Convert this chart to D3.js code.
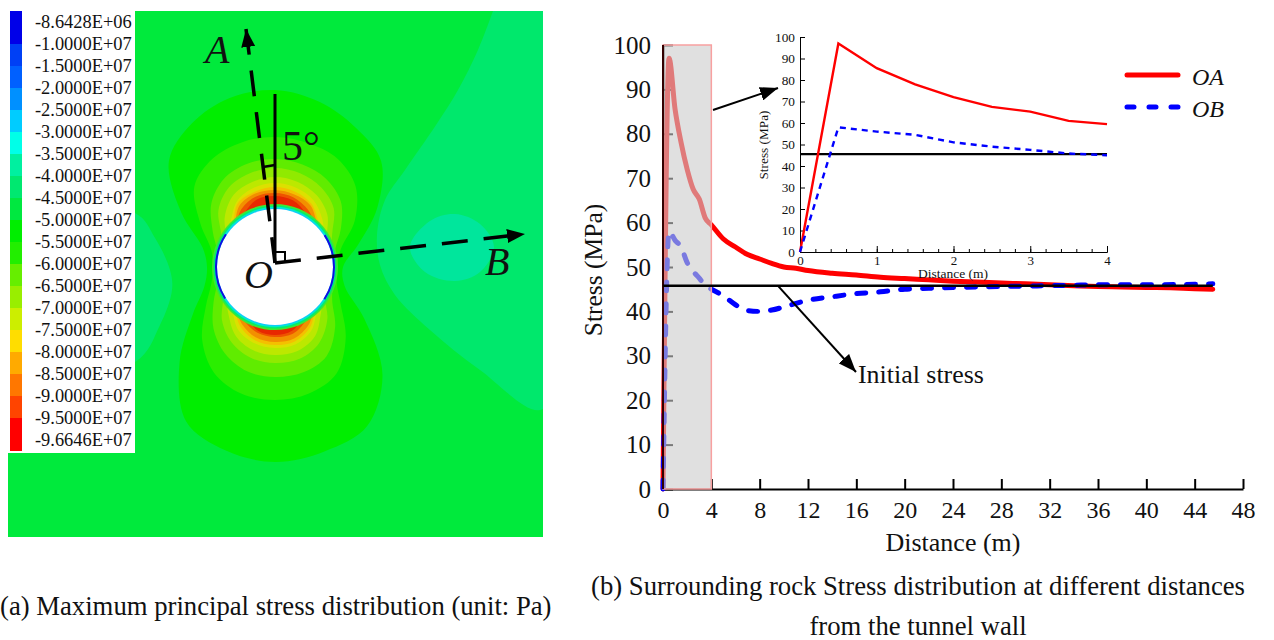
<!DOCTYPE html>
<html>
<head>
<meta charset="utf-8">
<script src="https://cdn.jsdelivr.net/npm/d3@7"></script>
<style>
    body { margin: 0; background: #fff; }
    svg { display: block; }
    text { font-family: "Liberation Serif", serif; fill: #111; }
    .main .tick line, .main .domain { stroke: #000; stroke-width: 2; }
    .inset .tick line, .inset .domain { stroke: #000; stroke-width: 1; }
</style>
</head>
<body>
<svg id="chart" width="1274" height="640"></svg>
<script>
// legend of the contour plot
const legendLabels = ["-8.6428E+06", "-1.0000E+07", "-1.5000E+07", "-2.0000E+07", "-2.5000E+07",
    "-3.0000E+07", "-3.5000E+07", "-4.0000E+07", "-4.5000E+07", "-5.0000E+07", "-5.5000E+07",
    "-6.0000E+07", "-6.5000E+07", "-7.0000E+07", "-7.5000E+07", "-8.0000E+07", "-8.5000E+07",
    "-9.0000E+07", "-9.5000E+07", "-9.6646E+07"];
const legendColors = ["#0000e8", "#0040f5", "#0060ff", "#0090ff", "#00ccff", "#00ffe8", "#00f0a0",
    "#00e870", "#00e840", "#00ee00", "#22ee00", "#66ee00", "#99ee00", "#ccee00", "#ffdd00",
    "#ffaa00", "#ff7700", "#ff4400", "#ff0000"];
const legendEdges = [11, 44, 66, 88, 110, 132, 154, 176, 198, 220, 242, 264, 286, 308, 330, 352, 374, 396, 418, 451];

// contour outlines, offsets from the tunnel centre
const rightZone = [[218, -256], [203, -217], [183, -177], [161, -142], [130, -97], [110, -67],
    [102, -32], [105, -2], [120, 28], [155, 63], [205, 103], [268, 142], [268, -256]];
const rightBlob = [[135, -20], [155, -46], [180, -53], [205, -43], [219, -20], [205, 5], [180, 14], [150, 5]];
const leftZone = [[-267, -60], [-140, -54], [-120, -29], [-105, 3], [-103, 23], [-115, 58], [-140, 95], [-267, 110]];

// radii around the tunnel, one value every 15 degrees clockwise from the top
const contourBands = [
    {color: "#00ee00", r: [177, 171, 161, 150, 118, 86, 68, 72, 103, 152, 184, 191, 195, 190, 178, 135, 95, 73, 68, 75, 108, 150, 166, 175]},
    {color: "#2aee00", r: [130, 128, 125, 114, 92, 68, 62, 64, 76, 100, 123, 131, 133, 131, 122, 103, 80, 66, 62, 66, 86, 114, 125, 129]},
    {color: "#60ec00", r: [108, 106, 102, 93, 76, 62, 60, 60, 66, 85, 103, 109, 110, 108, 100, 87, 71, 60, 59, 60, 72, 90, 102, 107]},
    {color: "#90ea00", r: [99, 97, 92, 83, 66, 58, 57, 58, 58, 74, 88, 95, 96, 94, 87, 75, 60, 57, 57, 57, 62, 80, 92, 97]},
    {color: "#bce800", r: [90, 88, 83, 74, 60, 56, 56, 56, 56, 65, 80, 87, 88, 86, 79, 66, 57, 56, 56, 56, 57, 71, 83, 88]},
    {color: "#dce000", r: [84, 82, 77, 67, 57, 56, 56, 56, 56, 60, 73, 80, 81, 79, 73, 61, 56, 56, 56, 56, 56, 63, 76, 82]},
    {color: "#f4c000", r: [80, 78, 73, 62, 56, 56, 56, 56, 56, 58, 70, 77, 78, 76, 69, 58, 56, 56, 56, 56, 56, 60, 74, 78]},
    {color: "#f29000", r: [77, 75, 71, 60, 56, 56, 56, 56, 56, 57, 67, 74, 75, 73, 66, 57, 56, 56, 56, 56, 56, 58, 71, 76]},
    {color: "#ee5400", r: [74, 72, 66, 58, 56, 56, 56, 56, 56, 56, 62, 69, 70, 68, 62, 56, 56, 56, 56, 56, 56, 57, 67, 73]},
    {color: "#e82800", r: [71, 69, 62, 56, 56, 56, 56, 56, 56, 56, 58, 66, 68, 66, 58, 56, 56, 56, 56, 56, 56, 56, 62, 70]}
];
const bandAngles = d3.range(24);

// rings at the tunnel wall, outer to inner
const wallRadii = [63, 61.5, 60.2, 59, 58];
const wallColors = ["#40e830", "#00ec70", "#00ecc8", "#10c8ff", "#ffffff"];
const blueArcs = [[1.0, 2.15], [4.15, 5.3]];

// callouts on the contour plot
const lineA = [[0, -4], [-29, -238]];
const lineB = [[0, -4], [250, -33]];
const lineV = [[0, -4], [0, -173]];
const rightMark = [[0, -15], [10, -15], [10, -4]];
const angleMark = [[-12, -100], [0, -102]];
const panelLabels = [
    {t: "A", x: -70, y: -204, i: true}, {t: "O", x: -31, y: 21, i: true},
    {t: "B", x: 210, y: 8, i: true}, {t: "5°", x: 7, y: -107, i: false}
];

// stress curves
const distOA = [0, 0.5, 1, 1.5, 2, 2.5, 3, 3.5, 4, 5, 6, 7, 8, 9, 10, 11, 12, 14, 16, 18, 20, 22, 24, 26, 28, 30, 32, 34, 36, 38, 40, 42, 44, 45.5];
const stressOA = [0, 97, 85.5, 78, 72, 67.5, 65.3, 61, 59.5, 56.3, 54.5, 52.8, 51.8, 50.8, 50, 49.7, 49.2, 48.6, 48.2, 47.7, 47.4, 47.1, 46.8, 46.6, 46.4, 46.2, 46, 45.8, 45.6, 45.5, 45.4, 45.3, 45.1, 45];
const distOB = [0, 0.5, 1, 1.5, 2, 2.5, 3, 3.5, 4, 5, 6, 7, 8, 9, 10, 11, 12, 14, 16, 18, 20, 22, 24, 26, 28, 30, 32, 34, 36, 40, 44, 45.5];
const stressOB = [0, 58, 56, 54.5, 51, 49, 47.5, 45.8, 45, 43.5, 41.5, 40.2, 40, 40.3, 41, 41.8, 42.5, 43.3, 44, 44.4, 45, 45.2, 45.4, 45.5, 45.6, 45.7, 45.8, 45.9, 46, 46, 46.1, 46.2];
const initialStress = 45.8;
const initialInset = 45.5;

const mainXTicks = d3.range(0, 49, 4);
const stressTicks = d3.range(0, 101, 10);
const insetXMinor = d3.range(0, 4.01, 0.2);

const svg = d3.select("#chart");

const defs = svg.append("defs");
defs.append("marker").attr("id", "head").attr("markerUnits", "userSpaceOnUse")
    .attr("viewBox", "0 0 18 14").attr("refX", 18).attr("refY", 7)
    .attr("markerWidth", 18).attr("markerHeight", 14).attr("orient", "auto")
    .append("path").attr("d", "M0,0L18,7L0,14Z").attr("fill", "#000");
defs.append("clipPath").attr("id", "field").append("rect")
    .attr("x", 8).attr("y", 11).attr("width", 535).attr("height", 526);

// ---- contour plot ----
const fieldX = d3.scaleLinear().domain([-267, 268]).range([8, 543]);
const fieldY = d3.scaleLinear().domain([-256, 270]).range([11, 537]);
const fieldLine = d3.line().x(d => fieldX(d[0])).y(d => fieldY(d[1]));
const radial = d3.lineRadial()
    .angle(i => i * Math.PI / 12)
    .curve(d3.curveCatmullRomClosed);

const field = svg.append("g").attr("clip-path", "url(#field)");
field.append("rect").attr("x", fieldX(-267)).attr("y", fieldY(-256))
    .attr("width", fieldX(268) - fieldX(-267)).attr("height", fieldY(270) - fieldY(-256))
    .attr("fill", "#00ea3c");
field.append("path")
    .attr("d", fieldLine.curve(d3.curveCatmullRom)(rightZone) + "Z")
    .attr("fill", "#00e86c");
field.append("path")
    .attr("d", fieldLine.curve(d3.curveCatmullRomClosed)(rightBlob))
    .attr("fill", "#00e69c");
field.append("path")
    .attr("d", fieldLine.curve(d3.curveCatmullRom)(leftZone) + "Z")
    .attr("fill", "#00e86c");

const centre = field.append("g")
    .attr("transform", `translate(${fieldX(0)},${fieldY(0)})`);
contourBands.forEach(b => {
    centre.append("path")
        .attr("d", radial.radius(i => b.r[i])(bandAngles))
        .attr("fill", b.color);
});
wallRadii.forEach((r, i) => {
    centre.append("circle").attr("r", r).attr("fill", wallColors[i]);
});
blueArcs.forEach(a => {
    centre.append("path")
        .attr("d", d3.arc()({innerRadius: 58, outerRadius: 60, startAngle: a[0], endAngle: a[1]}))
        .attr("fill", "#1010e0");
});

// legend box
svg.append("rect").attr("x", 8).attr("y", 11).attr("width", 127).attr("height", 442).attr("fill", "#fff");
svg.selectAll(".swatch").data(legendColors).enter().append("rect")
    .attr("class", "swatch")
    .attr("x", 10).attr("width", 12)
    .attr("y", (d, i) => legendEdges[i])
    .attr("height", (d, i) => legendEdges[i + 1] - legendEdges[i])
    .attr("fill", d => d);
svg.selectAll(".legend-label").data(legendLabels).enter().append("text")
    .attr("class", "legend-label")
    .attr("x", 35).attr("y", (d, i) => 22 + i * 22).attr("dy", ".35em")
    .attr("font-size", 18.4)
    .text(d => d);

// callouts
const overlay = svg.append("g");
const plainLine = d3.line().x(d => fieldX(d[0])).y(d => fieldY(d[1]));
[lineA, lineB].forEach(l => {
    overlay.append("path").attr("d", plainLine(l)).attr("fill", "none")
        .attr("stroke", "#000").attr("stroke-width", 3.5)
        .attr("stroke-dasharray", "26 16")
        .attr("marker-end", "url(#head)");
});
[[lineV, 3], [rightMark, 2], [angleMark, 2.5]].forEach(([l, w]) => {
    overlay.append("path").attr("d", plainLine(l)).attr("fill", "none")
        .attr("stroke", "#000").attr("stroke-width", w);
});
overlay.selectAll("text").data(panelLabels).enter().append("text")
    .attr("x", d => fieldX(d.x)).attr("y", d => fieldY(d.y))
    .attr("font-size", d => d.i ? 40 : 42)
    .attr("font-style", d => d.i ? "italic" : "normal")
    .text(d => d.t);

// ---- main line chart ----
const xScale = d3.scaleLinear().domain([0, 48]).range([663, 1243]);
const yScale = d3.scaleLinear().domain([0, 100]).range([489, 45]);
const pairs = (xs, ys) => xs.map((x, i) => [x, ys[i]]);
const mainLine = d3.line().x(d => xScale(d[0])).y(d => yScale(d[1]));
const mainCurve = d3.line().x(d => xScale(d[0])).y(d => yScale(d[1])).curve(d3.curveMonotoneX);

const main = svg.append("g").attr("class", "main");
main.append("g").attr("transform", "translate(0,489)")
    .call(d3.axisBottom(xScale).tickValues(mainXTicks).tickSize(-10).tickSizeOuter(0).tickPadding(12))
    .call(g => g.selectAll("text").attr("font-size", 24).attr("font-family", "Liberation Serif").attr("fill", "#111"));
main.append("g").attr("transform", "translate(663,0)")
    .call(d3.axisLeft(yScale).tickValues(stressTicks).tickSize(-10).tickSizeOuter(0).tickPadding(12))
    .call(g => g.selectAll("text").attr("font-size", 25).attr("font-family", "Liberation Serif").attr("fill", "#111"));

main.append("path")
    .attr("d", mainCurve(pairs(distOA, stressOA)))
    .attr("fill", "none").attr("stroke", "#ff0000").attr("stroke-width", 5)
    .attr("stroke-linejoin", "round").attr("stroke-linecap", "round");
main.append("path")
    .attr("d", mainCurve(pairs(distOB, stressOB)))
    .attr("fill", "none").attr("stroke", "#0000ff").attr("stroke-width", 5)
    .attr("stroke-linejoin", "round").attr("stroke-linecap", "round")
    .attr("stroke-dasharray", "9 13");

// shaded range of the inset, sits on top of the curves
main.append("rect")
    .attr("x", xScale(0)).attr("y", yScale(100))
    .attr("width", xScale(4) - xScale(0)).attr("height", yScale(0) - yScale(100))
    .attr("fill", "#cccccc").attr("fill-opacity", 0.6)
    .attr("stroke", "#f8a0a0").attr("stroke-width", 1.5);

// these two stay dark through the shading
main.append("path")
    .attr("d", mainLine([[0, 0], [0, 100]]))
    .attr("fill", "none").attr("stroke", "#300").attr("stroke-width", 2);
main.append("path")
    .attr("d", mainLine([[0, initialStress], [45.5, initialStress]]))
    .attr("fill", "none").attr("stroke", "#000").attr("stroke-width", 2.5);

main.append("text").attr("x", 953).attr("y", 551).attr("text-anchor", "middle")
    .attr("font-size", 26).text("Distance (m)");
main.append("text").attr("transform", "translate(602,270) rotate(-90)").attr("text-anchor", "middle")
    .attr("font-size", 25.5).text("Stress (MPa)");

// ---- inset ----
const insetX = d3.scaleLinear().domain([0, 4]).range([800, 1107]);
const insetY = d3.scaleLinear().domain([0, 100]).range([252, 37]);
const insetLine = d3.line().x(d => insetX(d[0])).y(d => insetY(d[1]));
const inset = svg.append("g").attr("class", "inset");
inset.append("g").attr("transform", "translate(0,252)")
    .call(d3.axisBottom(insetX).tickValues(insetXMinor).tickSize(-3).tickSizeOuter(0).tickFormat(""));
inset.append("g").attr("transform", "translate(0,252)")
    .call(d3.axisBottom(insetX).tickValues([0, 1, 2, 3, 4]).tickSize(-6).tickSizeOuter(0).tickPadding(4).tickFormat(d3.format("d")))
    .call(g => g.selectAll("text").attr("font-size", 13).attr("font-family", "Liberation Serif").attr("fill", "#111"));
inset.append("g").attr("transform", "translate(800,0)")
    .call(d3.axisLeft(insetY).tickValues(stressTicks).tickSize(-5).tickSizeOuter(0).tickPadding(5))
    .call(g => g.selectAll("text").attr("font-size", 13.3).attr("font-family", "Liberation Serif").attr("fill", "#111"));
const insetOA = pairs(distOA, stressOA).filter(d => d[0] <= 4);
const insetOB = pairs(distOB, stressOB).filter(d => d[0] <= 4);
inset.append("path").attr("d", insetLine([[0, initialInset], [4, initialInset]]))
    .attr("fill", "none").attr("stroke", "#000").attr("stroke-width", 2.2);
inset.append("path").attr("d", insetLine(insetOA))
    .attr("fill", "none").attr("stroke", "#ff0000").attr("stroke-width", 2.4);
inset.append("path").attr("d", insetLine(insetOB))
    .attr("fill", "none").attr("stroke", "#0000ff").attr("stroke-width", 2.4).attr("stroke-dasharray", "6 5");
inset.append("text").attr("x", 953).attr("y", 278).attr("text-anchor", "middle")
    .attr("font-size", 13.5).text("Distance (m)");
inset.append("text").attr("transform", "translate(768,145) rotate(-90)").attr("text-anchor", "middle")
    .attr("font-size", 13.3).text("Stress (MPa)");

// legend of the line chart
const legendRows = [
    {name: "OA", color: "#ff0000", y: 75, dash: null},
    {name: "OB", color: "#0000ff", y: 107, dash: "7 15"}
];
legendRows.forEach(d => {
    svg.append("line").attr("x1", 1127).attr("x2", 1178).attr("y1", d.y).attr("y2", d.y)
        .attr("stroke", d.color).attr("stroke-width", 5).attr("stroke-linecap", "round")
        .attr("stroke-dasharray", d.dash);
    svg.append("text").attr("x", 1192).attr("y", d.y + 10)
        .attr("font-size", 24).attr("font-style", "italic").text(d.name);
});

// arrows on the chart
svg.append("line").attr("x1", 713).attr("y1", 110).attr("x2", 778).attr("y2", 88)
    .attr("stroke", "#000").attr("stroke-width", 2).attr("marker-end", "url(#head)");
svg.append("line").attr("x1", xScale(9.5)).attr("y1", yScale(initialStress)).attr("x2", 856).attr("y2", 372)
    .attr("stroke", "#000").attr("stroke-width", 2).attr("marker-end", "url(#head)");
svg.append("text").attr("x", 858).attr("y", 383).attr("font-size", 25.9).text("Initial stress");

// captions
svg.append("text").attr("x", 0).attr("y", 615).attr("font-size", 26.7).text("(a) Maximum principal stress distribution (unit: Pa)");
svg.append("text").attr("x", 918).attr("y", 595).attr("text-anchor", "middle").attr("font-size", 26.7).text("(b) Surrounding rock Stress distribution at different distances");
svg.append("text").attr("x", 918).attr("y", 635).attr("text-anchor", "middle").attr("font-size", 26.7).text("from the tunnel wall");
</script>
</body>
</html>
